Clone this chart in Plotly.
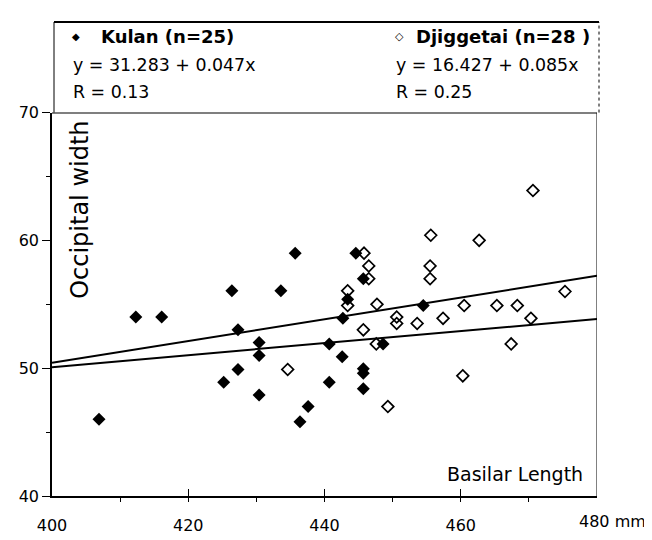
import plotly.graph_objects as go

# Kulan (filled diamonds)
kulan_x = [406.9, 412.3, 416.1, 425.2, 426.4, 427.3, 427.3, 430.4, 430.4, 430.4,
           433.6, 435.7, 436.4, 437.6, 440.7, 440.7, 442.6, 442.7, 443.4, 444.6,
           445.7, 445.7, 445.7, 445.7, 448.6, 454.5]
kulan_y = [46.0, 54.0, 54.0, 48.9, 56.05, 53.0, 49.9, 52.0, 51.0, 47.9,
           56.05, 59.0, 45.8, 47.0, 51.9, 48.9, 50.9, 53.9, 55.4, 59.0,
           57.0, 49.95, 49.6, 48.4, 51.9, 54.9]

# Djiggetai (open diamonds)
djig_x = [434.6, 443.4, 443.4, 445.8, 446.5, 446.5, 447.7, 445.7, 447.6, 449.3,
          450.6, 450.6, 453.6, 455.5, 455.5, 455.6, 457.4, 460.5, 460.3, 462.7,
          465.3, 467.4, 468.3, 470.3, 470.6, 475.3]
djig_y = [49.9, 56.05, 54.9, 59.0, 58.0, 57.0, 55.0, 53.0, 51.9, 47.0,
          54.0, 53.5, 53.5, 58.0, 57.0, 60.4, 53.9, 54.9, 49.4, 60.0,
          54.9, 51.9, 54.9, 53.9, 63.9, 56.0]

# Regression coefficients (intercept, slope)
kulan_fit = (31.283, 0.047)
djig_fit = (16.427, 0.085)
fit_x = [400, 480]

x_ticks = [400, 420, 440, 460, 480]
x_ticktext = ["400", "420", "440", "460", ""]   # last one drawn with its unit below
last_tick_label = "480 mm"
y_ticks = [40, 50, 60, 70]

FONT = "DejaVu Sans"

fig = go.Figure()

fig.add_trace(go.Scatter(
    x=fit_x, y=[kulan_fit[0] + kulan_fit[1] * v for v in fit_x],
    mode="lines", line=dict(color="black", width=2), showlegend=False))
fig.add_trace(go.Scatter(
    x=fit_x, y=[djig_fit[0] + djig_fit[1] * v for v in fit_x],
    mode="lines", line=dict(color="black", width=2), showlegend=False))

fig.add_trace(go.Scatter(
    x=kulan_x, y=kulan_y, mode="markers",
    marker=dict(symbol="diamond", size=10, color="black"),
    showlegend=False))
fig.add_trace(go.Scatter(
    x=djig_x, y=djig_y, mode="markers",
    marker=dict(symbol="diamond-open", size=9, color="black",
                line=dict(width=1.7, color="black")),
    showlegend=False))

# page body offsets the figure by 8px; work in screenshot pixels
OFF = 8
W, H = 652 - OFF, 540 - OFF
S_LEFT, S_RIGHT, S_TOP, S_BOTTOM, S_70 = 52, 597, 13, 505, 107
L = S_LEFT - OFF
R = W - (S_RIGHT - OFF)
T = S_TOP - OFF
B = H - (S_BOTTOM - OFF)
pw, ph = W - L - R, H - T - B
ydom_top = (S_BOTTOM - S_70) / ph


def px(xs):
    return (xs - S_LEFT) / pw


def py(ys):
    return (S_BOTTOM - ys) / ph


fig.update_layout(
    width=W, height=H,
    margin=dict(l=L, r=R, t=T, b=B),
    paper_bgcolor="white", plot_bgcolor="white",
    font=dict(family=FONT, color="black", size=16),
    xaxis=dict(range=[400, 480], tickvals=x_ticks, ticktext=x_ticktext,
               showgrid=False, zeroline=False, showline=True, linecolor="black",
               linewidth=2, ticks="inside", ticklen=7, tickwidth=1, tickcolor="black",
               ticklabelstandoff=14,
               minor=dict(dtick=10, ticks="outside", ticklen=4, tickcolor="black"),
               tickfont=dict(size=16, family=FONT)),
    yaxis=dict(range=[40, 70], domain=[0, ydom_top], tickvals=y_ticks,
               showgrid=False, zeroline=False, showline=True, linecolor="black",
               linewidth=1.5, ticks="outside", ticklen=8, tickwidth=1, tickcolor="black",
               minor=dict(dtick=5, ticks="outside", ticklen=4, tickcolor="black"),
               tickfont=dict(size=16, family=FONT)),
)

shapes = [
    # line at 70 (bottom of header box)
    dict(type="line", xref="paper", yref="y", x0=0, x1=1, y0=70, y1=70,
         line=dict(color="black", width=2)),
    # right border of plot
    dict(type="line", xref="x", yref="y", x0=480, x1=480, y0=40, y1=70,
         line=dict(color="black", width=1)),
    # header box top
    dict(type="line", xref="paper", yref="paper", x0=px(54), x1=px(599), y0=1, y1=1,
         line=dict(color="black", width=2)),
    # header box left
    dict(type="line", xref="paper", yref="paper", x0=px(54), x1=px(54), y0=ydom_top, y1=1,
         line=dict(color="black", width=1)),
    # header box right
    dict(type="line", xref="paper", yref="paper", x0=px(599), x1=px(599), y0=ydom_top, y1=1,
         line=dict(color="black", width=1, dash="dot")),
]
fig.update_layout(shapes=shapes)

ann = []


def add_text(text, xs, ys, size=17, bold=False, xanchor="left", angle=0):
    ann.append(dict(text=("<b>%s</b>" % text) if bold else text,
                    xref="paper", yref="paper", x=px(xs), y=py(ys),
                    xanchor=xanchor, yanchor="middle", showarrow=False,
                    textangle=angle, font=dict(family=FONT, size=size, color="black")))


add_text("◆", 76, 28, size=10, xanchor="center")
add_text("Kulan (n=25)", 99, 28, size=18, bold=True)
add_text("y = 31.283 + 0.047x", 71, 58, size=17.4)
add_text("R = 0.13", 71, 86, size=17.4)

add_text("◇", 399, 28, size=11, xanchor="center")
add_text("Djiggetai (n=28 )", 414, 28, size=18, bold=True)
add_text("y = 16.427 + 0.085x", 394, 58, size=17.4)
add_text("R = 0.25", 394, 86, size=17.4)

add_text("Basilar Length", 585, 482, size=19, xanchor="right")
add_text("Occipital width", 80, 208, size=24, xanchor="center", angle=-90)
add_text(last_tick_label, 577, 531, size=16)

fig.update_layout(annotations=ann)

fig.write_html("out.html")
